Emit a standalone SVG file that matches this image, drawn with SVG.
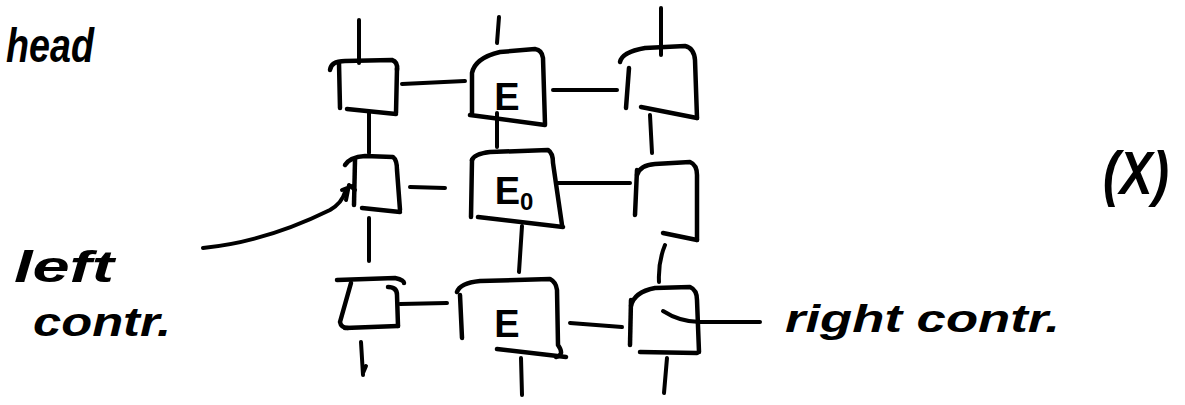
<svg xmlns="http://www.w3.org/2000/svg" width="1185" height="405" viewBox="0 0 1185 405">
  <style>
    .ink { fill: none; stroke: #000; stroke-width: 4; stroke-linecap: round; stroke-linejoin: round; }
    .box { fill: none; stroke: #000; stroke-width: 4.5; stroke-linecap: round; stroke-linejoin: round; }
    .hand { font-family: "Liberation Sans", "DejaVu Sans", sans-serif; font-style: italic; font-weight: bold; fill: #000; }
    .sym { font-family: "Liberation Sans", "DejaVu Sans", sans-serif; font-weight: bold; fill: #000; font-size: 38px; text-anchor: middle; }
  </style>
  <rect width="1185" height="405" fill="#fff"/>

  <!-- bonds between the tensors and the open legs -->
  <g id="connectors" class="ink">
    <!-- column 0 -->
    <path d="M359,20 L359,63"/>
    <path d="M369,113 L369,153"/>
    <path d="M369,218 L369,261"/>
    <path d="M361,342 L363,375 M363,373 L366,366"/>
    <!-- column 1 -->
    <path d="M499,17 L497,43"/>
    <path d="M497,113 L497,147"/>
    <path d="M522,226 L519,272"/>
    <path d="M521,358 L522,395"/>
    <!-- column 2 -->
    <path d="M661,8 L661,55"/>
    <path d="M650,115 L652,153"/>
    <path d="M665,245 Q658,262 659,282"/>
    <path d="M667,358 L664,393"/>
    <!-- row 0 -->
    <path d="M402,84 L465,81"/>
    <path d="M553,90 L617,90"/>
    <!-- row 1 -->
    <path d="M410,187 L445,188"/>
    <path d="M557,183 L630,183"/>
    <!-- row 2 -->
    <path d="M400,304 L447,303"/>
    <path d="M570,323 L622,327"/>
    <!-- right contraction leg -->
    <path d="M663,311 Q680,322 700,322 L760,322"/>
    <!-- left contraction leg -->
    <path d="M203,248 Q265,242 330,210 Q342,203 345,192"/>
    <path d="M346,200 L349,185 L355,190 M342,190 L352,186"/>
  </g>

  <!-- row 0 -->
  <g id="t00" class="box">
    <path d="M330,70 Q331,61 345,61 L392,60 Q398,62 397,70"/>
    <path d="M339,63 L340,108"/>
    <path d="M397,68 L396,113"/>
    <path d="M347,109 L396,114"/>
  </g>
  <g id="t01">
    <path class="box" d="M472,113 L472,73 Q475,58 500,52 L535,49 Q542,50 543,58 L545,124"/>
    <path class="box" d="M470,115 L545,125"/>
    <text class="sym" x="507" y="110">E</text>
  </g>
  <g id="t02" class="box">
    <path d="M620,62 Q622,52 645,48 L685,46 Q694,48 695,60 L697,118"/>
    <path d="M629,68 L626,108"/>
    <path d="M641,107 L697,118"/>
  </g>

  <!-- row 1 -->
  <g id="t10" class="box">
    <path d="M345,165 Q350,157 365,156 L393,157 Q397,160 397,170 L400,210"/>
    <path d="M355,160 L354,205"/>
    <path d="M362,208 L400,212"/>
  </g>
  <g id="t11">
    <path class="box" d="M472,160 Q474,154 490,152 L548,150 Q553,153 553,163 L562,225"/>
    <path class="box" d="M472,160 L471,217"/>
    <path class="box" d="M478,217 L563,227"/>
    <text class="sym" x="514" y="204">E<tspan font-size="24" dy="6">0</tspan></text>
  </g>
  <g id="t12" class="box">
    <path d="M637,175 Q640,165 655,164 L690,162 Q697,165 697,175 L697,240"/>
    <path d="M637,170 L635,215"/>
    <path d="M663,233 L697,240"/>
  </g>

  <!-- row 2 -->
  <g id="t20" class="box">
    <path d="M337,280 L395,278 Q404,280 404,283"/>
    <path d="M351,283 L340,322 Q341,328 348,328"/>
    <path d="M345,328 L398,326"/>
    <path d="M388,287 Q397,287 397,295 L398,326"/>
  </g>
  <g id="t21">
    <path class="box" d="M457,292 Q460,283 480,281 L550,279 Q556,282 557,290 L558,345 Q565,355 556,357"/>
    <path class="box" d="M460,295 L462,338"/>
    <path class="box" d="M497,349 L566,357"/>
    <text class="sym" x="507" y="337">E</text>
  </g>
  <g id="t22" class="box">
    <path d="M631,306 Q634,292 655,288 L690,287 Q697,290 697,300 L699,352"/>
    <path d="M631,300 L630,345"/>
    <path d="M640,352 L697,353"/>
  </g>

  <!-- annotations -->
  <g id="labels">
    <text class="hand" x="6" y="62" font-size="48" textLength="88" lengthAdjust="spacingAndGlyphs">head</text>
    <text class="hand" x="14" y="282" font-size="44" textLength="100" lengthAdjust="spacingAndGlyphs">left</text>
    <text class="hand" x="33" y="336" font-size="40" textLength="138" lengthAdjust="spacingAndGlyphs">contr.</text>
    <text class="hand" x="785" y="332" font-size="38" textLength="275" lengthAdjust="spacingAndGlyphs">right contr.</text>
    <text class="hand" x="1103" y="194" font-size="62" textLength="66" lengthAdjust="spacingAndGlyphs">(X)</text>
  </g>
</svg>
